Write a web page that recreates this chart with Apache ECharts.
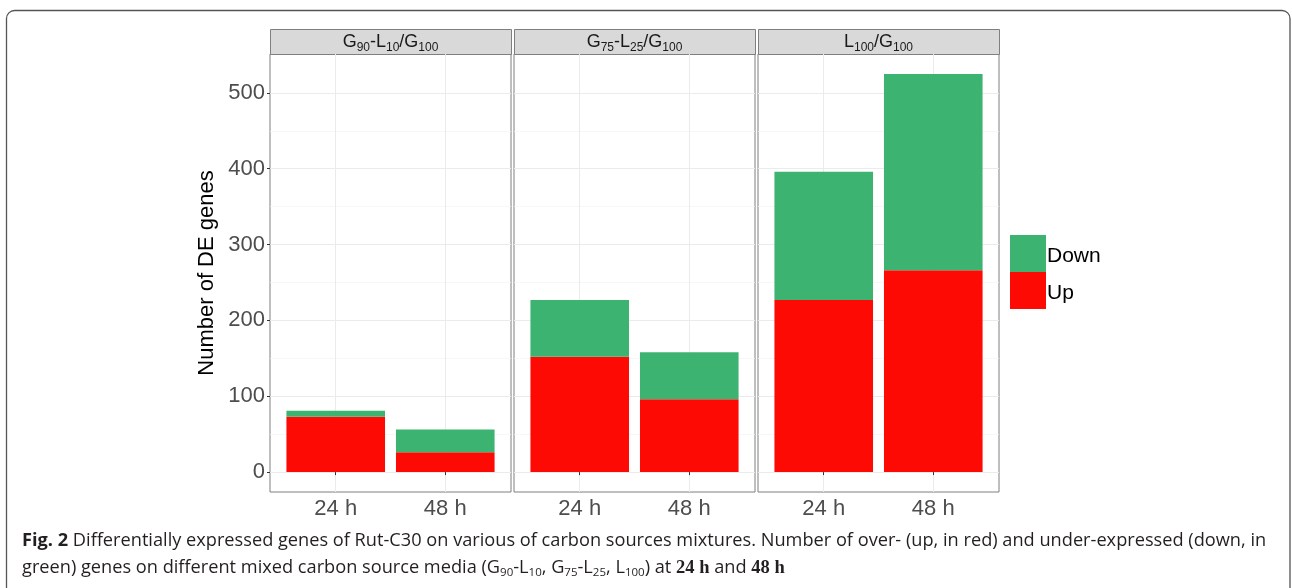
<!DOCTYPE html>
<html><head><meta charset="utf-8">
<script src="https://cdn.jsdelivr.net/npm/echarts@6/dist/echarts.min.js"></script>
<style>html,body{margin:0;padding:0;background:#fff}#c{width:1292px;height:588px}</style>
</head><body><div id="c"></div>
<script>
// ---- data ----
const panelLabels = [
  '{m|G}{s|90}{m|-L}{s|10}{m|/G}{s|100}',
  '{m|G}{s|75}{m|-L}{s|25}{m|/G}{s|100}',
  '{m|L}{s|100}{m|/G}{s|100}'
];
const times = ['24 h', '48 h'];
const upValues   = [[73, 26], [152, 96], [227, 266]];
const downValues = [[8, 30], [75, 62], [169, 259]];
const yTicks = [0, 100, 200, 300, 400, 500];
const yMinorTicks = [50, 150, 250, 350, 450];
const yRange = [-26.25, 551.25];
const seriesNames = ['Up', 'Down'];
const yTitle = 'Number of DE genes';
const captionLine1 = '{b|Fig. 2} {n|Differentially expressed genes of Rut-C30 on various of carbon sources mixtures. Number of over- (up, in red) and under-expressed (down, in}';
const captionLine2 = '{n|green) genes on different mixed carbon source media (G}{s|90}{n|-L}{s|10}{n|, G}{s|75}{n|-L}{s|25}{n|, L}{s|100}{n|) at }{m|24 h}{n| and }{m|48 h}';

// ---- layout ----
const RED = '#fe0a04', GREEN = '#3cb371';
const panelLeft = [270, 514, 758], panelW = 241, panelTop = 54, panelH = 438;
const stripTop = 29, stripH = 25;
const FONT = 'Liberation Sans';
const CAPFONT = 'Open Sans';
const CAPSIZE = 18.2;

const grids = [], xAxes = [], yAxes = [], series = [], graphics = [];

graphics.push({type:'rect', silent:true, z:-1,
  shape:{x:6.5, y:10.5, width:1283.5, height:620, r:[8,8,0,0]},
  style:{fill:'none', stroke:'#555', lineWidth:1.3}});

panelLabels.forEach((lab, i) => {
  grids.push({left: panelLeft[i], top: panelTop, width: panelW, height: panelH,
    show: true, borderColor: '#7f7f7f', borderWidth: 1, backgroundColor: '#fff'});
  xAxes.push({
    gridIndex: i, type: 'value', min: 0.4, max: 2.6,
    axisLine: {show: false},
    axisTick: {show: true, customValues: [1, 2], length: 3, lineStyle: {color: '#333'}},
    axisLabel: {customValues: [1, 2], formatter: v => times[Math.round(v) - 1],
      fontSize: 22, color: '#4d4d4d', margin: 6, fontFamily: FONT},
    splitLine: {show: true, lineStyle: {color: '#ebebeb', width: 1}}
  });
  yAxes.push({
    gridIndex: i, type: 'value', min: yRange[0], max: yRange[1], position: 'left',
    axisLine: {show: false},
    axisTick: {show: i === 0, customValues: yTicks, length: 3, lineStyle: {color: '#333'}},
    axisLabel: {show: i === 0, customValues: yTicks, fontSize: 22, color: '#4d4d4d', margin: 5, fontFamily: FONT},
    splitLine: {show: true, lineStyle: {color: '#ebebeb', width: 1}},
    name: i === 0 ? yTitle : '', nameLocation: 'middle', nameGap: 52,
    nameTextStyle: {fontSize: 22, color: '#000', fontFamily: FONT}
  });
  yAxes.push({
    gridIndex: i, type: 'value', min: yRange[0], max: yRange[1], position: 'right',
    axisLine: {show: false},
    axisTick: {show: false, customValues: yMinorTicks},
    axisLabel: {show: false, customValues: yMinorTicks},
    splitLine: {show: true, lineStyle: {color: '#f4f4f4', width: 0.7}}
  });
  // data rows: [value, position]; encode maps column 0 -> y, column 1 -> x
  series.push({
    type: 'bar', name: seriesNames[0], xAxisIndex: i, yAxisIndex: 2 * i, stack: 's' + i,
    barWidth: '90%', itemStyle: {color: RED}, encode: {x: 1, y: 0},
    data: times.map((t, j) => [upValues[i][j], j + 1])
  });
  series.push({
    type: 'bar', name: seriesNames[1], xAxisIndex: i, yAxisIndex: 2 * i, stack: 's' + i,
    barWidth: '90%', itemStyle: {color: GREEN}, encode: {x: 1, y: 0},
    data: times.map((t, j) => [downValues[i][j], j + 1])
  });
  graphics.push({type:'rect', silent:true,
    shape:{x: panelLeft[i] + 0.5, y: stripTop + 0.5, width: panelW, height: stripH},
    style:{fill:'#d9d9d9', stroke:'#7f7f7f', lineWidth:1}});
  graphics.push({type:'text', silent:true, x: panelLeft[i] + panelW / 2, y: stripTop + stripH / 2 + 1,
    style:{text: lab, align:'center', verticalAlign:'middle',
      rich:{
        m:{fontSize:18, fontFamily:FONT, fill:'#1a1a1a', lineHeight:22},
        s:{fontSize:12, fontFamily:FONT, fill:'#1a1a1a', lineHeight:12, verticalAlign:'bottom'}
      }}});
});

const capRich = {
  b:{fontSize:CAPSIZE, fontFamily:CAPFONT, fontWeight:'bold', fill:'#231f20', lineHeight:22},
  n:{fontSize:CAPSIZE, fontFamily:CAPFONT, fill:'#231f20', lineHeight:22},
  s:{fontSize:11.5, fontFamily:CAPFONT, fill:'#231f20', lineHeight:11, verticalAlign:'bottom'},
  m:{fontSize:18.5, fontFamily:'Liberation Serif', fontWeight:'bold', fill:'#231f20', lineHeight:22}
};
graphics.push({type:'text', silent:true, x:22, y:541,
  style:{text: captionLine1, align:'left', verticalAlign:'middle', rich: capRich, fontSize:CAPSIZE, fontFamily:CAPFONT}});
graphics.push({type:'text', silent:true, x:22, y:568,
  style:{text: captionLine2, align:'left', verticalAlign:'middle', rich: capRich, fontSize:CAPSIZE, fontFamily:CAPFONT}});

const chart = echarts.init(document.getElementById('c'));
chart.setOption({
  animation: false,
  backgroundColor: '#fff',
  grid: grids, xAxis: xAxes, yAxis: yAxes, series: series,
  legend: {data: ['Down', 'Up'], orient: 'vertical', left: 1005, top: 230,
    itemWidth: 36, itemHeight: 37, itemGap: 0, icon: 'rect', selectedMode: false,
    formatter: '{a|{name}}',
    textStyle: {fontSize: 21, color: '#000', fontFamily: FONT, padding: [0, 0, 0, -4],
      rich: {a: {fontSize: 21, color: '#000', fontFamily: FONT, padding: [6, 0, 0, 0]}}}},
  graphic: graphics
});
</script></body></html>
